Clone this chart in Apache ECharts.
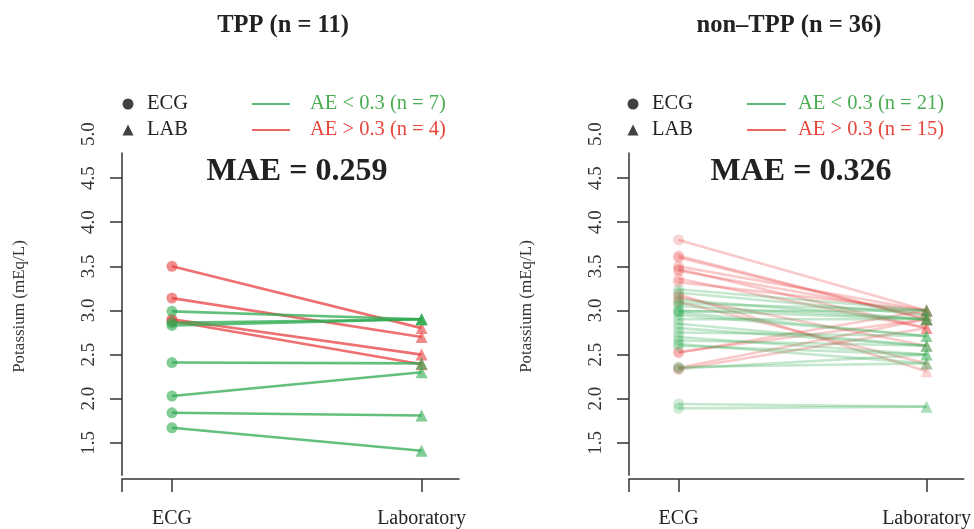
<!DOCTYPE html>
<html>
<head>
<meta charset="utf-8">
<script src="https://cdn.jsdelivr.net/npm/echarts@6/dist/echarts.min.js"></script>
<style>
  html, body { margin: 0; padding: 0; background: #fff; }
  #main { width: 974px; height: 529px; }
</style>
</head>
<body>
<div id="main"></div>
<script>
// ECG-estimated vs laboratory potassium (mEq/L), one entry per patient
var tppEcg = [3.50, 3.14, 2.90, 2.88, 2.99, 2.83, 2.86, 2.41, 2.03, 1.84, 1.67];
var tppLab = [2.80, 2.70, 2.50, 2.39, 2.90, 2.90, 2.90, 2.40, 2.30, 1.81, 1.41];

var nonTppEcg = [3.80, 3.62, 3.60, 3.50, 3.47, 3.45, 3.36, 3.32, 3.15, 3.18, 3.10, 2.53, 2.35, 2.33, 2.52,
                 3.24, 3.20, 3.12, 3.08, 3.05, 3.00, 2.99, 2.98, 2.95, 2.90, 2.85, 2.80, 2.75, 2.70, 2.66,
                 2.62, 2.60, 2.36, 2.34, 1.94, 1.89];
var nonTppLab = [3.00, 2.90, 2.90, 3.00, 2.80, 2.95, 2.80, 3.00, 2.60, 2.31, 2.40, 2.90, 2.90, 2.80, 3.00,
                 3.00, 2.95, 2.90, 3.00, 2.90, 2.90, 3.00, 2.71, 2.71, 2.90, 2.60, 2.60, 2.71, 2.50, 2.60,
                 2.40, 2.50, 2.40, 2.50, 1.91, 1.91];

var xLabels = ['ECG', 'Laboratory'];
var yTickValues = [1.5, 2.0, 2.5, 3.0, 3.5, 4.0, 4.5];
var yLabelValues = [1.5, 2.0, 2.5, 3.0, 3.5, 4.0, 4.5, 5.0];
var panelTitles = ['TPP', 'non\u2013TPP'];
var maeLabels = ['0.259', '0.326'];
var threshold = 0.3;

var FONT = 'Liberation Serif';
var GREEN = '46,170,80';
var RED = '232,64,64';
var GREEN_TXT = '#4aad52';
var RED_TXT = '#e8443a';
var AXIS = '#333';

var xMin = 0.8, xMax = 2.15, yMin = 1.09, yMax = 5.0;
var yLineLo = 1.126, yLineHi = 4.79;

var panels = [
  { ecg: tppEcg, lab: tppLab, alpha: 0.75, left: 122, right: 515, titleX: 283, maeX: 297, mkLeft: 122.5, lnLeft: 252, lnW: 38, lnPad: 15 },
  { ecg: nonTppEcg, lab: nonTppLab, alpha: 0.28, left: 629, right: 9, titleX: 789, maeX: 801, mkLeft: 627.5, lnLeft: 747, lnW: 39, lnPad: 7 }
];

var grids = [], xAxes = [], yAxes = [], series = [], titles = [], legends = [];

panels.forEach(function (p, k) {
  var n = p.ecg.length;
  var isBad = p.ecg.map(function (v, i) { return Math.abs(v - p.lab[i]) > threshold; });
  var nBad = isBad.filter(function (b) { return b; }).length;
  var nGood = n - nBad;
  var goodName = 'AE < 0.3 (n = ' + nGood + ')';
  var badName = 'AE > 0.3 (n = ' + nBad + ')';
  function col(i) { return 'rgba(' + (isBad[i] ? RED : GREEN) + ',' + p.alpha + ')'; }

  grids.push({ left: p.left, right: p.right, top: 134, bottom: 50, containLabel: false });

  xAxes.push({
    type: 'value', gridIndex: k, min: xMin, max: xMax,
    splitLine: { show: false },
    axisLine: { show: true, lineStyle: { color: AXIS, width: 1.5 } },
    axisTick: { show: true, customValues: [xMin, 1, 2], length: 13, lineStyle: { color: AXIS, width: 1.5 } },
    axisLabel: {
      customValues: [1, 2], margin: 30, fontFamily: FONT, fontSize: 20, color: '#222',
      formatter: function (v) { return xLabels[Math.round(v) - 1]; }
    }
  });

  yAxes.push({
    type: 'value', gridIndex: k, min: yMin, max: yMax,
    splitLine: { show: false },
    axisLine: { show: false },
    axisTick: { show: true, customValues: yTickValues, length: 12, lineStyle: { color: AXIS, width: 1.5 } },
    axisLabel: {
      customValues: yLabelValues, rotate: 90, margin: 23, fontFamily: FONT, fontSize: 19, color: '#333',
      formatter: function (v) { return v.toFixed(1); }
    },
    name: 'Potassium (mEq/L)', nameLocation: 'middle', nameGap: 94, nameRotate: 90,
    nameTextStyle: { fontFamily: FONT, fontSize: 17, color: '#333' }
  });

  // connecting lines, one per patient
  for (var i = 0; i < n; i++) {
    series.push({
      type: 'line', name: isBad[i] ? badName : goodName,
      xAxisIndex: k, yAxisIndex: k,
      data: [[1, p.ecg[i]], [2, p.lab[i]]],
      symbol: 'none', silent: true, z: 2,
      lineStyle: { color: col(i), width: 2.6 },
      itemStyle: { color: col(i) }
    });
  }

  series.push({
    type: 'scatter', name: 'ECG', xAxisIndex: k, yAxisIndex: k, z: 3,
    symbol: 'circle', symbolSize: 11,
    data: p.ecg.map(function (v, i) { return { value: [1, v], itemStyle: { color: col(i) } }; }),
    markLine: {
      silent: true, symbol: 'none', label: { show: false },
      lineStyle: { color: AXIS, width: 1.5, type: 'solid' },
      data: [[{ coord: [xMin, yLineLo] }, { coord: [xMin, yLineHi] }]]
    }
  });
  series.push({
    type: 'scatter', name: 'LAB', xAxisIndex: k, yAxisIndex: k, z: 3,
    symbol: 'triangle', symbolSize: 12,
    data: p.lab.map(function (v, i) { return { value: [2, v], itemStyle: { color: col(i) } }; })
  });

  titles.push({
    text: panelTitles[k] + ' (n = ' + n + ')', left: p.titleX, top: 13, textAlign: 'center', padding: 0,
    textStyle: { fontFamily: FONT, fontSize: 24.5, fontWeight: 'bold', color: '#222' }
  });
  titles.push({
    text: 'MAE = ' + maeLabels[k], left: p.maeX, top: 156, textAlign: 'center', padding: 0,
    textStyle: { fontFamily: FONT, fontSize: 32, fontWeight: 'bold', color: '#222' }
  });

  legends.push({
    orient: 'vertical', left: p.mkLeft, top: 93.5, itemGap: 5, itemWidth: 11, itemHeight: 11,
    padding: 0, selectedMode: false,
    textStyle: { fontFamily: FONT, fontSize: 20.5, color: '#222', padding: [0, 0, 0, 8.5] },
    data: [
      { name: 'ECG', icon: 'circle', itemStyle: { color: '#111' } },
      { name: 'LAB', icon: 'triangle', itemStyle: { color: '#111' } }
    ]
  });
  legends.push({
    orient: 'vertical', left: p.lnLeft, top: 93.5, itemGap: 5, itemWidth: p.lnW, itemHeight: 2,
    padding: 0, selectedMode: false,
    textStyle: { fontFamily: FONT, fontSize: 20.5, padding: [0, 0, 0, p.lnPad] },
    data: [
      { name: goodName, icon: 'rect', itemStyle: { color: 'rgb(' + GREEN + ')', opacity: 0.8 }, textStyle: { color: GREEN_TXT } },
      { name: badName, icon: 'rect', itemStyle: { color: 'rgb(' + RED + ')', opacity: 0.8 }, textStyle: { color: RED_TXT } }
    ]
  });
});

var myChart = echarts.init(document.getElementById('main'));
myChart.setOption({
  animation: false,
  backgroundColor: '#fff',
  title: titles,
  legend: legends,
  grid: grids,
  xAxis: xAxes,
  yAxis: yAxes,
  series: series
});
</script>
</body>
</html>
